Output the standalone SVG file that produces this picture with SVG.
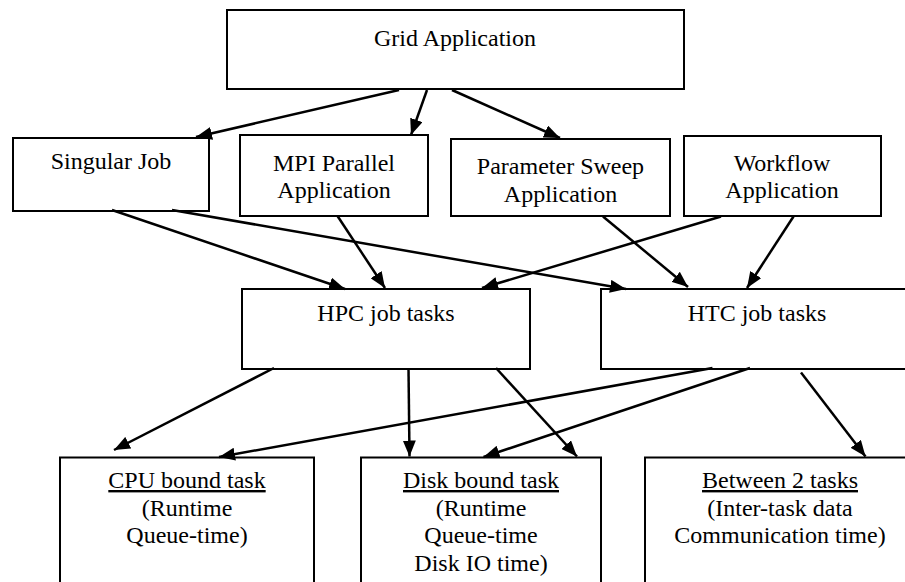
<svg xmlns="http://www.w3.org/2000/svg" width="905" height="582" viewBox="0 0 905 582">
<style>
.box{fill:#fff;stroke:#000;stroke-width:2}
text{font-family:'Liberation Serif','Times New Roman',Tinos,'DejaVu Serif',serif;font-size:24px;fill:#000;text-anchor:middle}
.u{text-decoration:underline}
.c{stroke:#000;stroke-width:2.5;fill:none;marker-end:url(#ah)}
</style>
<defs>
<marker id="ah" markerUnits="userSpaceOnUse" markerWidth="17" markerHeight="13" refX="16" refY="6.5" orient="auto">
<path d="M0,0 L16,6.5 L0,13 z" fill="#000"/>
</marker>
</defs>
<rect width="905" height="582" fill="#fff"/>
<g font-family="Liberation Serif, Times New Roman, serif">
<g id="grid"><rect class="box" x="227" y="10" width="457" height="79"/><text x="455" y="46">Grid Application</text></g>
<g id="singular"><rect class="box" x="13" y="138" width="196" height="73"/><text x="111" y="169">Singular Job</text></g>
<g id="mpi"><rect class="box" x="240" y="135" width="188" height="81"/><text x="334" y="170.5">MPI Parallel</text><text x="334" y="198">Application</text></g>
<g id="sweep"><rect class="box" x="451" y="139" width="219" height="77"/><text x="560.5" y="174">Parameter Sweep</text><text x="560.5" y="201.5">Application</text></g>
<g id="workflow"><rect class="box" x="684" y="136" width="197" height="80"/><text x="782" y="170.5">Workflow</text><text x="782" y="198">Application</text></g>
<g id="hpc"><rect class="box" x="242" y="289" width="288" height="80"/><text x="386" y="321">HPC job tasks</text></g>
<g id="htc"><rect class="box" x="601" y="289" width="316" height="80"/><text x="757" y="321">HTC job tasks</text></g>
<g id="cpu"><rect class="box" x="60" y="457.5" width="254" height="140"/><text class="u" x="187" y="488">CPU bound task</text><text x="187" y="515.5">(Runtime</text><text x="187" y="543">Queue-time)</text></g>
<g id="disk"><rect class="box" x="361" y="457.5" width="240" height="140"/><text class="u" x="481" y="488">Disk bound task</text><text x="481" y="515.5">(Runtime</text><text x="481" y="543">Queue-time</text><text x="481" y="570.5">Disk IO time)</text></g>
<g id="between"><rect class="box" x="645" y="457.5" width="270" height="140"/><text class="u" x="780" y="488">Between 2 tasks</text><text x="780" y="515.5">(Inter-task data</text><text x="780" y="543">Communication time)</text></g>
</g>
<g id="connectors">
<line class="c" x1="399" y1="90" x2="196" y2="137"/>
<line class="c" x1="427" y1="90" x2="411" y2="135"/>
<line class="c" x1="452" y1="90" x2="560" y2="138"/>
<line class="c" x1="112" y1="210" x2="345" y2="289"/>
<line class="c" x1="172" y1="210" x2="626" y2="289"/>
<line class="c" x1="337.5" y1="216" x2="385" y2="288"/>
<line class="c" x1="721" y1="216.5" x2="482" y2="288"/>
<line class="c" x1="603" y1="216.5" x2="688" y2="287"/>
<line class="c" x1="793.5" y1="216.5" x2="747" y2="288"/>
<line class="c" x1="274" y1="368" x2="114" y2="450"/>
<line class="c" x1="712.5" y1="368" x2="219" y2="457"/>
<line class="c" x1="408.5" y1="368" x2="409.5" y2="456.5"/>
<line class="c" x1="496" y1="368" x2="577" y2="456.5"/>
<line class="c" x1="750" y1="368" x2="483.5" y2="457"/>
<line class="c" x1="801" y1="372.5" x2="865.5" y2="456.5"/>
</g>
</svg>
